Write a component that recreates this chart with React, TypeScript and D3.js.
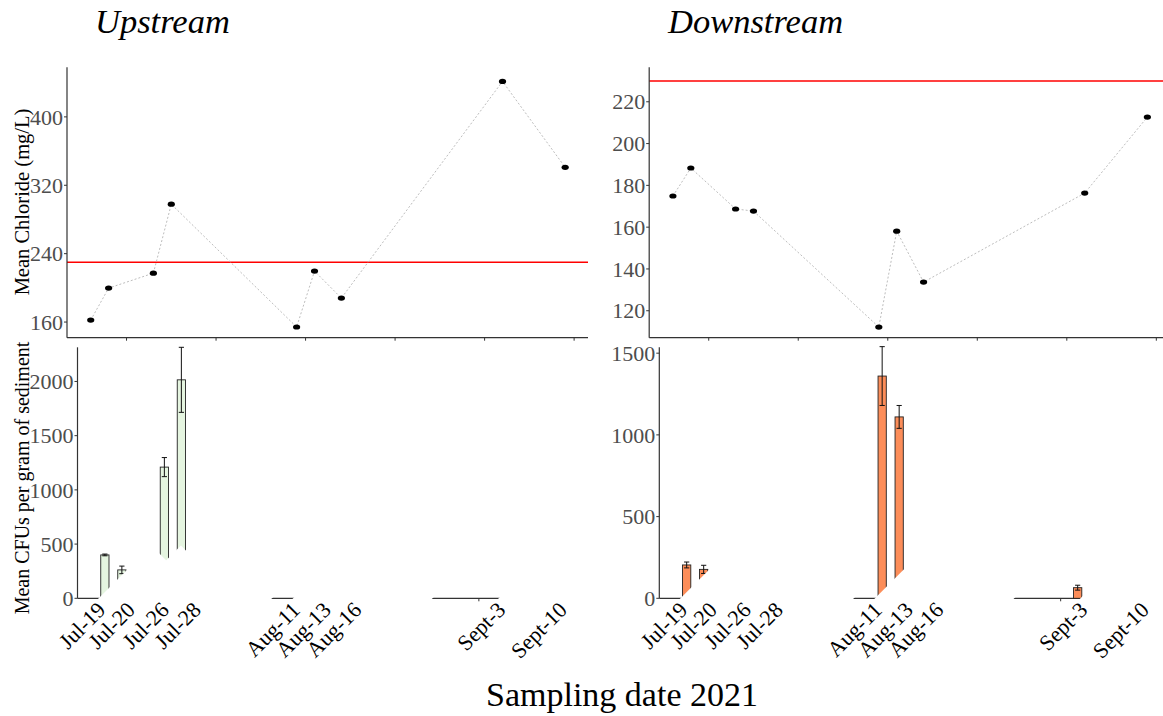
import React from "react";
import * as d3 from "d3";

// ---------- data ----------
const sampleDates = ["2021-07-19", "2021-07-21", "2021-07-26", "2021-07-28", "2021-08-11", "2021-08-13", "2021-08-16", "2021-09-03", "2021-09-10"];
const tickLabels = ["Jul-19", "Jul-20", "Jul-26", "Jul-28", "Aug-11", "Aug-13", "Aug-16", "Sept-3", "Sept-10"];
const labelDates = ["2021-07-19", "2021-07-20", "2021-07-26", "2021-07-28", "2021-08-11", "2021-08-13", "2021-08-16", "2021-09-03", "2021-09-10"];
const labelNudge = [0, 21, 4, 19, -1, 13, 18, 9, 11];
const minorTickDates = ["2021-07-23", "2021-08-02", "2021-08-12", "2021-08-22", "2021-09-01", "2021-09-11"];

const upChloride = [162.3, 199.7, 217.2, 297.9, 154.2, 219.6, 188.0, 441.5, 341.0];
const downChloride = [174.9, 188.3, 168.7, 167.7, 112.2, 158.1, 133.7, 176.3, 212.7];
const chlorideLimit = 230;

const upCFU = [400, 262, 1210, 2015, 0, 0, 0, 0, 0];
const upCFUErr = [8, 35, 88, 300, 0, 0, 0, 0, 0];
const downCFU = [204, 177, 0, 0, 1360, 1110, 0, 65, 0];
const downCFUErr = [18, 25, 0, 0, 180, 70, 0, 15, 0];

const upChlTicks = [160, 240, 320, 400];
const downChlTicks = [120, 140, 160, 180, 200, 220];
const upCFUTicks = [0, 500, 1000, 1500, 2000];
const downCFUTicks = [0, 500, 1000, 1500];

// ---------- helpers ----------
const parse = d3.timeParse("%Y-%m-%d");
const FONT = "'Liberation Serif', 'Times New Roman', serif";
const AXIS = "#333333";
const TICKTXT = "#4d4d4d";

let _ctx: CanvasRenderingContext2D | null = null;
function textWidth(t: string, size: number) {
  if (!_ctx) {
    const c = document.createElement("canvas");
    _ctx = c.getContext("2d");
  }
  if (!_ctx) return t.length * size * 0.5;
  _ctx.font = `${size}px 'Liberation Serif'`;
  return _ctx.measureText(t).width;
}

const topDomain: [Date, Date] = [new Date(2021, 6, 16, 8, 24), new Date(2021, 8, 12, 13, 12)];
const botDomain: [Date, Date] = [new Date(2021, 6, 15, 18, 43), new Date(2021, 8, 13, 18, 43)];

function ChloridePanel({ x0, values, yDomain, ticks }: { x0: number; values: number[]; yDomain: [number, number]; ticks: number[] }) {
  const y0 = 337.7, y1 = 67.3, w = 521;
  const x = d3.scaleTime().domain(topDomain).range([x0, x0 + w]);
  const y = d3.scaleLinear().domain(yDomain).range([y0, y1]);
  const pts = sampleDates.map((d, i) => ({ d: parse(d) as Date, v: values[i] }));
  const line = d3.line<{ d: Date; v: number }>().x((p) => x(p.d)).y((p) => y(p.v));
  return (
    <g>
      <line x1={x0} x2={x0 + w} y1={y(chlorideLimit)} y2={y(chlorideLimit)} stroke="#ff0000" strokeWidth={1.5} />
      <path d={line(pts) || ""} fill="none" stroke="#b5b5b5" strokeWidth={0.9} strokeDasharray="2 2" />
      {pts.map((p, i) => (
        <ellipse key={i} cx={x(p.d)} cy={y(p.v)} rx={3.6} ry={2.6} fill="#000" />
      ))}
      <line x1={x0} x2={x0} y1={y1} y2={y0} stroke={AXIS} strokeWidth={1.2} />
      <line x1={x0} x2={x0 + w} y1={y0} y2={y0} stroke={AXIS} strokeWidth={1.2} />
      {ticks.map((t) => (
        <g key={t}>
          <line x1={x0 - 3} x2={x0} y1={y(t)} y2={y(t)} stroke={AXIS} strokeWidth={1} />
          <text x={x0 - 4} y={y(t)} dy="0.35em" textAnchor="end" fontSize={22} fill={TICKTXT} fontFamily={FONT}>{t}</text>
        </g>
      ))}
      {minorTickDates.map((d) => {
        const xx = x(parse(d) as Date);
        return <line key={d} x1={xx} x2={xx} y1={y0} y2={y0 + 3} stroke={AXIS} strokeWidth={1} />;
      })}
    </g>
  );
}

function CFUPanel({ x0, values, errs, yDomain, ticks, fill }: { x0: number; values: number[]; errs: number[]; yDomain: [number, number]; ticks: number[]; fill: string }) {
  const y0 = 598.3, y1 = 347.3, w = 510;
  const x = d3.scaleTime().domain(botDomain).range([x0, x0 + w]);
  const y = d3.scaleLinear().domain(yDomain).range([y0, y1]);
  const dayW = x(d3.timeDay.offset(botDomain[0], 1)) - x(botDomain[0]);
  const bw = dayW * 0.97;
  const fs = 22;
  const labels = tickLabels.map((t, i) => {
    const ax = x(parse(labelDates[i]) as Date) + labelNudge[i] + 2;
    const ay = y0 + 13;
    return { t, ax, ay, w: textWidth(t, fs) };
  });
  return (
    <g>
      <line x1={x0} x2={x0 + w} y1={y0} y2={y0} stroke={AXIS} strokeWidth={1.2} />
      {minorTickDates.map((d) => {
        const xx = x(parse(d) as Date);
        return <line key={d} x1={xx} x2={xx} y1={y0} y2={y0 + 3} stroke={AXIS} strokeWidth={1} />;
      })}
      {sampleDates.map((d, i) => {
        if (values[i] <= 0) return null;
        const cx = x(parse(d) as Date);
        return (
          <g key={d}>
            <rect x={cx - bw / 2} y={y(values[i])} width={bw} height={y0 - y(values[i])} fill={fill} stroke="#222" strokeWidth={0.9} />
            {errs[i] > 0 && (
              <g stroke="#111" strokeWidth={1}>
                <line x1={cx} x2={cx} y1={y(values[i] + errs[i])} y2={y(values[i] - errs[i])} />
                <line x1={cx - 2.6} x2={cx + 2.6} y1={y(values[i] + errs[i])} y2={y(values[i] + errs[i])} />
                <line x1={cx - 2.6} x2={cx + 2.6} y1={y(values[i] - errs[i])} y2={y(values[i] - errs[i])} />
              </g>
            )}
          </g>
        );
      })}
      {labels.map((l, i) => (
        <g key={"b" + i} transform={`translate(${l.ax},${l.ay}) rotate(-45)`}>
          <rect x={-(l.w + 3)} y={-15} width={l.w + 3 + 78} height={55} fill="#ffffff" />
        </g>
      ))}
      {labels.map((l, i) => (
        <g key={"t" + i} transform={`translate(${l.ax},${l.ay}) rotate(-45)`}>
          <text x={0} y={0} textAnchor="end" fontSize={fs} fill="#000" fontFamily={FONT}>{l.t}</text>
        </g>
      ))}
      <line x1={x0} x2={x0} y1={y1} y2={y0} stroke={AXIS} strokeWidth={1.2} />
      {ticks.map((t) => (
        <g key={t}>
          <line x1={x0 - 3} x2={x0} y1={y(t)} y2={y(t)} stroke={AXIS} strokeWidth={1} />
          <text x={x0 - 4} y={y(t)} dy="0.35em" textAnchor="end" fontSize={22} fill={TICKTXT} fontFamily={FONT}>{t}</text>
        </g>
      ))}
    </g>
  );
}

export default function App() {
  return (
    <svg width={1163} height={716} style={{ position: "absolute", left: 0, top: 0, background: "#fff" }} fontFamily={FONT}>
      <rect width={1163} height={716} fill="#fff" />
      <text x={95} y={33} fontSize={34.5} fontStyle="italic" fill="#000">Upstream</text>
      <text x={668} y={33} fontSize={34.5} fontStyle="italic" fill="#000">Downstream</text>

      <ChloridePanel x0={67} values={upChloride} yDomain={[141.7, 458]} ticks={upChlTicks} />
      <ChloridePanel x0={649.2} values={downChloride} yDomain={[107.1, 236.5]} ticks={downChlTicks} />

      <CFUPanel x0={77.5} values={upCFU} errs={upCFUErr} yDomain={[0, 2315]} ticks={upCFUTicks} fill="#e5f5e0" />
      <CFUPanel x0={659.3} values={downCFU} errs={downCFUErr} yDomain={[0, 1536]} ticks={downCFUTicks} fill="#fc8d59" />

      <text transform="translate(29,202) rotate(-90)" textAnchor="middle" fontSize={20.5} fill="#000">Mean Chloride (mg/L)</text>
      <text transform="translate(29,478) rotate(-90)" textAnchor="middle" fontSize={20} fill="#000">Mean CFUs per gram of sediment</text>
      <text x={622} y={706} textAnchor="middle" fontSize={34} fill="#000">Sampling date 2021</text>
    </svg>
  );
}
